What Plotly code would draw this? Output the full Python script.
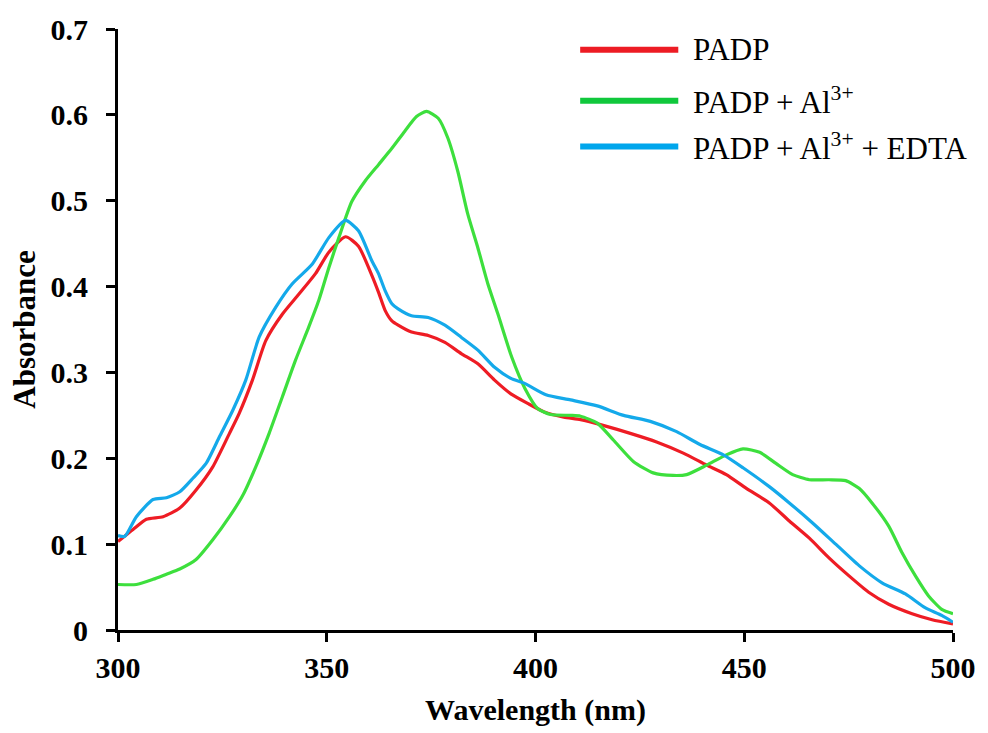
import plotly.graph_objects as go

# ---- data ----
wl_padp = [300, 303.6, 306.8, 310.8, 314.8, 318.7, 322.7, 326.7, 329, 332.2, 335.4, 339.4,
           343.3, 347.3, 350.5, 354.5, 357.6, 360.8, 362.5, 364, 365.6, 367.1, 370.3, 374.3,
           378.3, 382.2, 386.2, 390.2, 394.1, 398.1, 402.1, 406.8, 410.8, 416.4, 422.7, 429,
           435.4, 441, 445.7, 450.5, 456, 460.8, 465.6, 470.3, 475.1, 479.8, 484.6, 490.2,
           495, 500]
abs_padp = [0.103, 0.117, 0.129, 0.132, 0.142, 0.163, 0.190, 0.229, 0.252, 0.291, 0.337, 0.368,
            0.391, 0.415, 0.440, 0.458, 0.447, 0.413, 0.392, 0.372, 0.360, 0.355, 0.347, 0.343,
            0.335, 0.322, 0.310, 0.291, 0.275, 0.264, 0.254, 0.248, 0.245, 0.238, 0.229, 0.219,
            0.206, 0.192, 0.181, 0.165, 0.148, 0.127, 0.107, 0.084, 0.063, 0.044, 0.030, 0.019,
            0.012, 0.007]

wl_al = [300, 304.4, 308.4, 311.6, 314.8, 318.7, 322.7, 326.7, 329.8, 333, 336.2, 339.4,
         342.5, 345.7, 348.1, 350.5, 352.9, 356, 359.2, 362.4, 365.6, 368.7, 371.5, 373.9,
         376.7, 379, 381.4, 383.8, 386.2, 388.6, 391, 394.3, 397.5, 400.5, 403.6, 408.4,
         410.8, 414.8, 418.7, 423.5, 428.2, 433, 436.2, 441, 445.7, 449.7, 453.7, 457.6,
         461.6, 465.6, 470.3, 474.3, 477.5, 480.6, 484.6, 487.8, 491, 494.1, 497.3, 500]
abs_al = [0.053, 0.053, 0.059, 0.065, 0.071, 0.082, 0.105, 0.132, 0.156, 0.190, 0.229, 0.272,
          0.314, 0.353, 0.384, 0.422, 0.457, 0.499, 0.523, 0.542, 0.561, 0.581, 0.598, 0.604,
          0.596, 0.573, 0.534, 0.484, 0.445, 0.403, 0.368, 0.318, 0.281, 0.258, 0.251, 0.250,
          0.249, 0.241, 0.221, 0.196, 0.183, 0.180, 0.181, 0.192, 0.204, 0.211, 0.207, 0.194,
          0.181, 0.175, 0.175, 0.174, 0.165, 0.148, 0.121, 0.090, 0.063, 0.040, 0.024, 0.019]

wl_edta = [300, 301.6, 304.4, 308.4, 311.6, 314.8, 318, 321.1, 324.3, 327.5, 330.6, 333.8,
           337.8, 341.7, 346.5, 350.5, 354.5, 357.6, 360.8, 362.4, 364, 365.6, 367.1, 370.3,
           374.3, 378.3, 382.2, 386.2, 390.2, 394.1, 397.5, 402.5, 408.4, 414.8, 421.1, 427.5,
           433.8, 439.4, 445, 449.7, 456, 460.8, 466.3, 471.9, 477.5, 483, 488.6, 493.3,
           497.3, 500]
abs_edta = [0.110, 0.109, 0.132, 0.152, 0.154, 0.161, 0.177, 0.194, 0.225, 0.256, 0.291, 0.341,
            0.376, 0.403, 0.426, 0.457, 0.477, 0.465, 0.430, 0.415, 0.395, 0.380, 0.374, 0.366,
            0.364, 0.355, 0.341, 0.326, 0.306, 0.293, 0.287, 0.274, 0.268, 0.261, 0.250, 0.243,
            0.231, 0.216, 0.204, 0.189, 0.167, 0.148, 0.125, 0.100, 0.075, 0.055, 0.042, 0.026,
            0.017, 0.009]

series_names = ["PADP", "PADP + Al<sup>3+</sup>", "PADP + Al<sup>3+</sup> + EDTA"]
series_colors = ["#ee1c24", "#3ddf3d", "#14a9ea"]
legend_colors = ["#ed1c24", "#10c83c", "#00a6ec"]

x_ticks = [300, 350, 400, 450, 500]
y_ticks = [0, 0.1, 0.2, 0.3, 0.4, 0.5, 0.6, 0.7]
y_tick_text = ["0", "0.1", "0.2", "0.3", "0.4", "0.5", "0.6", "0.7"]

FONT = "Liberation Serif, Times New Roman, serif"

fig = go.Figure()
for wl, ab, name, col in zip([wl_padp, wl_al, wl_edta], [abs_padp, abs_al, abs_edta],
                             series_names, series_colors):
    fig.add_trace(go.Scatter(x=wl, y=ab, mode="lines", name=name,
                             line=dict(color=col, width=3.2, shape="spline", smoothing=0.6),
                             showlegend=False))

# custom legend (long line samples like the reference)
legend_y = [0.9655, 0.8805, 0.8045]
for name, col, yp in zip(series_names, legend_colors, legend_y):
    fig.add_shape(type="line", xref="paper", yref="paper", x0=0.5535, x1=0.671, y0=yp, y1=yp,
                  line=dict(color=col, width=6))
    fig.add_annotation(xref="paper", yref="paper", x=0.686, y=yp, text=name, showarrow=False,
                       xanchor="left", yanchor="middle",
                       font=dict(family=FONT, size=31, color="black"))

fig.update_layout(
    width=988, height=733,
    margin=dict(l=118, r=30, t=26, b=102),
    paper_bgcolor="white", plot_bgcolor="white",
    font=dict(family=FONT, color="black"),
    xaxis=dict(range=[300, 500], tickvals=x_ticks, showgrid=False, zeroline=False,
               showline=True, linecolor="black", linewidth=3,
               ticks="outside", ticklen=9, tickwidth=3, tickcolor="black",
               tickfont=dict(family=FONT, size=30, weight="bold", color="black"),
               title=dict(text="Wavelength (nm)", standoff=16,
                          font=dict(family=FONT, size=30, weight="bold", color="black"))),
    yaxis=dict(range=[0, 0.7], tickvals=y_ticks, ticktext=y_tick_text,
               showgrid=False, zeroline=False,
               showline=True, linecolor="black", linewidth=3,
               ticks="outside", ticklen=9, tickwidth=3, tickcolor="black",
               ticklabelstandoff=12,
               tickfont=dict(family=FONT, size=30, weight="bold", color="black"),
               title=dict(text="Absorbance", standoff=6,
                          font=dict(family=FONT, size=31, weight="bold", color="black"))),
)

fig.write_html("out.html")
